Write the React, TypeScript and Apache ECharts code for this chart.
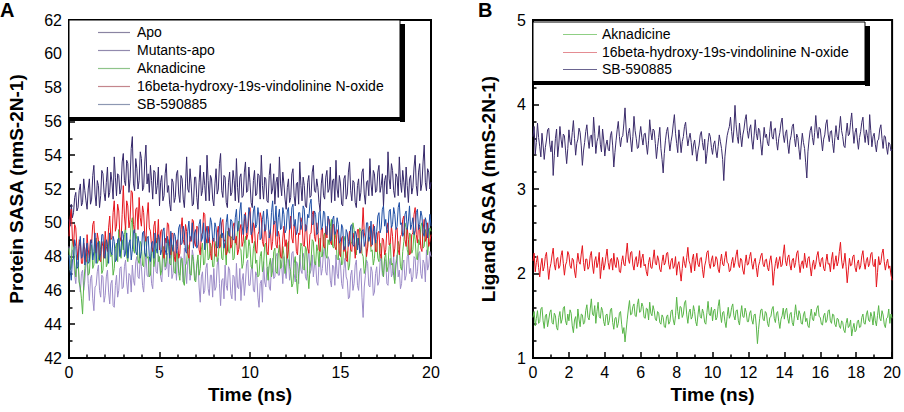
import React, { useEffect, useRef } from "react";
import * as echarts from "echarts";

// Sampling: 16 points per ns, 0..20 ns
const SAMPLES_PER_NS = 16;

// Panel A: Protein SASA
const apo = [
  50.2, 49.8, 51.1, 50.3, 50.6, 51.5, 51.8, 50.7, 50.9, 51.9, 52.3, 51.0, 51.2, 52.6, 51.9, 51.3,
  50.8, 52.0, 52.6, 51.1, 51.4, 52.8, 53.4, 51.7, 51.0, 52.5, 52.2, 50.9, 51.6, 53.1, 52.9, 51.8,
  51.3, 52.4, 53.3, 51.5, 51.8, 53.0, 52.4, 51.4, 53.9, 52.7, 51.6, 52.9, 52.8, 51.7, 52.0, 53.6,
  54.1, 52.5, 52.2, 53.7, 53.5, 51.8, 52.6, 54.4, 55.1, 52.3, 51.9, 53.8, 53.2, 52.0, 52.5, 54.2,
  53.8, 51.9, 52.1, 53.6, 54.6, 52.3, 52.9, 51.8, 53.4, 52.5, 51.4, 53.1, 53.0, 51.7, 52.2, 53.3,
  51.0, 52.4, 52.8, 51.3, 51.6, 52.9, 53.5, 51.8, 52.2, 51.1, 50.7, 52.6, 52.4, 51.2, 51.5, 52.9,
  53.1, 51.7, 51.2, 52.8, 52.6, 51.4, 50.9, 52.3, 53.9, 52.0, 51.8, 53.2, 52.3, 51.0, 51.1, 52.7,
  52.7, 51.5, 50.8, 52.4, 53.4, 51.6, 51.9, 53.0, 52.2, 51.3, 54.0, 52.5, 51.3, 52.8, 52.6, 51.4,
  51.0, 52.3, 53.2, 51.7, 52.0, 53.5, 54.1, 51.9, 51.5, 52.8, 52.7, 51.2, 50.9, 52.4, 53.0, 51.6,
  51.8, 53.1, 52.5, 51.3, 53.8, 52.1, 51.2, 52.7, 52.9, 51.5, 51.6, 53.0, 53.6, 51.8, 51.9, 53.3,
  52.4, 51.2, 50.9, 52.5, 53.1, 51.6, 51.7, 52.9, 52.8, 51.4, 54.0, 52.2, 51.4, 52.7, 52.6, 51.3,
  51.2, 52.8, 53.5, 51.7, 52.0, 52.9, 51.1, 52.4, 52.7, 51.5, 53.9, 52.3, 51.6, 53.0, 52.3, 51.4,
  50.8, 52.1, 52.6, 51.2, 51.5, 52.9, 53.2, 51.6, 51.0, 52.3, 52.4, 51.1, 53.6, 52.2, 51.3, 52.7,
  52.2, 51.0, 50.9, 52.4, 52.8, 51.5, 51.6, 53.0, 53.4, 51.9, 51.8, 52.6, 52.1, 51.2, 50.7, 52.3,
  52.9, 51.6, 51.4, 52.7, 53.1, 51.8, 52.0, 53.3, 51.2, 52.5, 52.6, 51.3, 53.7, 52.0, 51.5, 52.8,
  52.3, 51.1, 51.0, 52.6, 52.8, 51.4, 51.7, 53.0, 53.6, 51.9, 51.3, 52.5, 52.4, 51.2, 50.9, 52.2,
  52.6, 51.3, 51.8, 53.0, 53.2, 51.7, 51.1, 52.4, 52.5, 51.6, 53.8, 52.3, 51.6, 53.1, 52.9, 51.8,
  51.9, 53.0, 53.4, 51.8, 52.2, 52.9, 51.0, 52.5, 52.8, 51.7, 54.2, 52.6, 52.0, 53.5, 53.1, 51.9,
  51.5, 52.9, 52.7, 51.6, 53.9, 52.4, 51.8, 53.1, 52.4, 51.5, 53.3, 52.2, 51.2, 52.6, 52.8, 51.7,
  52.1, 53.3, 54.0, 52.2, 51.6, 53.0, 53.5, 51.9, 52.3, 53.6, 54.6, 52.4, 51.9, 53.2, 53.0, 52.0,
  52.4,
];
const mutantsApo = [
  48.6, 47.9, 47.3, 48.4, 48.1, 46.9, 46.4, 47.5, 47.7, 46.5, 45.9, 47.0, 47.2, 46.0, 46.6, 47.6,
  47.8, 46.4, 45.4, 46.7, 46.9, 45.5, 44.8, 46.2, 46.3, 47.1, 47.5, 46.0, 45.6, 46.9, 46.8, 45.3,
  45.7, 46.8, 47.2, 45.9, 45.2, 46.4, 46.6, 45.1, 45.0, 46.3, 46.9, 45.6, 46.0, 47.3, 47.4, 46.1,
  46.2, 47.4, 47.8, 46.5, 45.8, 47.0, 46.9, 45.9, 47.5, 46.6, 46.3, 47.7, 48.0, 46.8, 46.7, 47.9,
  47.4, 46.3, 45.9, 47.2, 48.2, 46.9, 46.8, 47.9, 47.6, 46.4, 46.1, 47.5, 48.4, 47.1, 47.0, 48.1,
  47.9, 46.8, 46.5, 47.6, 48.6, 47.2, 47.3, 48.2, 46.8, 47.9, 48.1, 46.7, 47.0, 48.3, 47.7, 46.6,
  48.3, 47.1, 46.9, 48.0, 47.6, 46.5, 48.5, 47.4, 46.4, 47.7, 47.9, 46.6, 47.2, 48.4, 48.0, 46.9,
  46.6, 47.5, 47.8, 46.2, 45.3, 46.8, 47.1, 45.8, 46.0, 47.3, 47.6, 46.1, 45.7, 46.9, 46.9, 45.6,
  47.3, 46.0, 46.2, 47.5, 47.9, 46.4, 45.1, 46.6, 46.7, 45.5, 47.5, 46.3, 46.0, 47.4, 47.2, 45.8,
  45.5, 46.9, 46.8, 45.4, 47.6, 46.2, 46.1, 47.3, 45.4, 46.6, 47.0, 45.7, 46.5, 47.6, 47.8, 46.3,
  46.3, 47.2, 47.5, 46.0, 45.9, 47.1, 46.9, 45.6, 45.0, 46.4, 46.6, 45.3, 47.7, 46.5, 46.2, 47.3,
  47.4, 46.2, 46.0, 47.5, 47.9, 46.7, 46.8, 48.0, 48.2, 46.9, 46.9, 47.8, 47.5, 46.4, 48.0, 47.1,
  46.7, 47.9, 47.8, 46.6, 47.1, 48.2, 48.3, 47.0, 46.5, 47.7, 47.6, 46.4, 48.1, 47.2, 47.0, 48.2,
  47.9, 46.8, 46.6, 47.8, 48.4, 47.0, 47.2, 48.1, 46.8, 47.5, 47.7, 46.5, 46.3, 47.6, 48.0, 46.9,
  47.3, 48.3, 48.5, 47.1, 46.9, 48.0, 47.8, 46.6, 46.2, 47.5, 47.4, 46.3, 48.1, 47.0, 46.7, 47.9,
  47.5, 46.4, 46.1, 47.3, 47.9, 46.8, 46.6, 45.5, 45.6, 46.9, 47.2, 46.0, 46.4, 47.5, 47.8, 46.3,
  46.0, 47.1, 47.3, 45.6, 44.4, 46.2, 46.9, 47.8, 47.6, 46.3, 46.2, 47.4, 47.1, 45.7, 45.9, 47.0,
  47.4, 46.3, 46.5, 47.7, 48.0, 46.9, 46.8, 47.9, 47.7, 46.4, 46.3, 47.5, 47.9, 46.8, 47.0, 48.1,
  46.6, 47.7, 48.1, 46.8, 47.2, 46.1, 46.4, 47.6, 47.8, 46.6, 46.9, 48.0, 48.2, 47.0, 47.3, 46.5,
  46.8, 48.0, 47.9, 46.7, 47.1, 48.2, 48.3, 47.0, 46.7, 47.8, 47.6, 46.5, 48.4, 47.2, 47.5, 48.3,
  48.0,
];
const aknadicineA = [
  48.5, 47.2, 47.6, 49.0, 48.9, 47.5, 46.8, 48.1, 47.9, 46.5, 46.2, 45.5, 44.6, 46.3, 47.3, 48.0,
  48.2, 46.9, 47.0, 48.3, 48.7, 47.3, 47.5, 48.8, 49.1, 47.6, 47.8, 48.9, 48.4, 47.0, 47.2, 48.5,
  48.9, 47.4, 47.6, 48.8, 49.4, 48.0, 48.1, 46.9, 47.3, 48.5, 48.8, 47.7, 49.6, 48.3, 47.9, 49.0,
  48.4, 49.3, 49.8, 48.0, 47.7, 48.6, 48.9, 50.0, 50.3, 48.4, 48.2, 49.4, 49.0, 47.8, 47.6, 48.9,
  48.7, 47.5, 47.4, 48.8, 49.2, 47.9, 48.0, 46.8, 46.9, 48.2, 48.5, 47.4, 47.8, 49.0, 49.1, 47.7,
  48.0, 46.9, 47.2, 48.4, 48.6, 47.4, 47.7, 48.9, 49.0, 47.6, 47.5, 48.7, 48.3, 47.1, 47.0, 48.2,
  48.2, 47.0, 46.6, 47.8, 47.9, 46.5, 46.3, 47.5, 47.6, 48.7, 48.4, 47.0, 46.9, 48.1, 47.7, 46.6,
  46.5, 47.6, 48.1, 46.9, 47.3, 48.4, 48.8, 47.5, 47.6, 48.9, 49.0, 47.8, 47.9, 48.8, 48.5, 47.4,
  47.4, 48.5, 48.9, 47.7, 48.0, 49.1, 49.3, 47.9, 47.8, 48.8, 48.6, 47.5, 49.5, 48.3, 48.2, 49.2,
  49.1, 47.8, 47.9, 49.0, 48.7, 49.6, 50.1, 48.5, 48.4, 47.3, 47.6, 48.8, 49.2, 47.9, 48.0, 49.0,
  48.6, 47.4, 47.3, 48.5, 48.9, 47.6, 47.8, 46.8, 46.9, 48.0, 48.3, 47.1, 47.5, 48.7, 48.8, 47.4,
  46.6, 47.5, 47.9, 46.8, 47.2, 48.3, 48.5, 47.1, 47.0, 48.2, 48.7, 47.3, 47.4, 48.6, 48.1, 47.0,
  47.6, 48.7, 48.9, 47.4, 47.1, 46.2, 46.4, 47.6, 48.0, 46.7, 45.8, 47.0, 47.7, 48.8, 48.6, 47.3,
  47.2, 48.6, 48.4, 47.0, 46.1, 47.3, 47.8, 49.0, 48.9, 47.6, 47.5, 48.7, 48.3, 47.4, 49.1, 48.0,
  48.0, 49.2, 49.4, 48.1, 47.9, 49.0, 48.7, 49.8, 50.2, 48.6, 48.5, 49.5, 49.0, 47.9, 47.8, 48.9,
  48.8, 47.5, 47.6, 48.9, 49.2, 47.9, 48.3, 47.2, 47.5, 48.7, 48.9, 50.0, 49.6, 48.2, 48.1, 49.1,
  48.7, 49.7, 49.5, 48.2, 48.0, 47.0, 47.3, 48.4, 48.6, 49.6, 49.8, 48.3, 48.4, 47.5, 47.9, 49.0,
  48.9, 47.9, 47.7, 48.8, 48.5, 47.2, 46.8, 47.9, 48.2, 47.1, 47.4, 48.6, 48.8, 47.5, 47.6, 46.9,
  46.4, 47.5, 47.9, 48.9, 48.6, 47.4, 47.2, 48.3, 48.9, 50.0, 49.7, 48.4, 48.1, 49.4, 49.3, 48.2,
  48.4, 49.5, 49.0, 47.9, 47.8, 49.0, 48.7, 49.8, 50.0, 48.5, 48.6, 49.6, 49.2, 48.1, 48.8, 49.7,
  49.5,
];
const vindolinineA = [
  49.2, 50.3, 50.8, 49.1, 48.6, 49.9, 49.7, 48.5, 47.8, 49.0, 48.9, 47.6, 47.6, 48.8, 48.4, 47.7,
  49.3, 48.4, 47.9, 49.0, 48.8, 49.9, 50.1, 48.6, 48.2, 49.4, 49.0, 47.8, 47.7, 48.9, 48.6, 47.9,
  49.5, 48.6, 48.3, 49.7, 50.4, 49.0, 49.1, 50.6, 51.3, 49.5, 49.8, 51.1, 50.7, 49.2, 48.9, 50.5,
  52.2, 50.4, 49.6, 51.3, 51.0, 49.7, 50.2, 51.9, 51.8, 49.9, 49.4, 50.8, 50.9, 49.6, 51.5, 50.3,
  49.8, 51.0, 50.6, 49.2, 48.9, 50.4, 51.2, 49.7, 49.5, 48.6, 48.3, 49.8, 50.1, 48.8, 49.0, 50.2,
  48.4, 49.5, 49.6, 48.3, 47.9, 49.1, 48.8, 50.0, 49.9, 48.6, 48.1, 49.4, 49.3, 48.0, 47.7, 48.9,
  49.0, 47.9, 48.2, 49.6, 50.3, 49.0, 48.7, 49.9, 49.5, 48.2, 47.9, 49.2, 48.9, 50.2, 50.1, 48.8,
  48.6, 49.8, 49.7, 48.4, 48.1, 49.3, 49.4, 50.6, 50.5, 49.1, 48.8, 49.8, 49.2, 48.2, 47.8, 49.0,
  49.1, 48.2, 48.0, 49.4, 49.8, 48.5, 48.6, 50.0, 50.2, 48.9, 49.0, 48.1, 48.3, 49.7, 49.6, 48.5,
  48.7, 49.8, 50.0, 48.8, 49.2, 48.1, 48.4, 49.6, 49.9, 48.6, 48.9, 50.1, 50.6, 49.0, 49.3, 50.4,
  50.9, 49.5, 48.8, 50.0, 49.7, 48.4, 48.2, 49.3, 49.5, 50.6, 50.3, 48.9, 48.6, 49.9, 49.4, 48.3,
  48.1, 49.3, 49.6, 48.4, 48.9, 50.0, 50.1, 48.7, 48.5, 49.5, 49.2, 48.0, 47.9, 49.1, 49.8, 48.6,
  49.0, 47.9, 48.4, 49.7, 50.4, 49.1, 48.8, 49.9, 49.6, 48.3, 48.1, 49.4, 49.3, 50.3, 50.0, 48.7,
  48.6, 49.9, 49.8, 48.5, 48.2, 49.3, 49.4, 50.5, 50.7, 49.2, 48.9, 50.0, 49.5, 48.4, 48.3, 49.6,
  49.7, 48.6, 48.5, 49.8, 49.1, 50.3, 50.2, 48.9, 48.7, 49.9, 49.9, 48.6, 48.4, 49.6, 49.3, 48.2,
  48.0, 49.1, 49.2, 48.3, 48.6, 47.8, 47.7, 48.9, 49.5, 48.4, 48.3, 49.4, 49.0, 47.9, 48.8, 49.6,
  49.6, 48.4, 48.2, 49.5, 50.9, 49.4, 49.1, 48.0, 48.5, 49.7, 49.8, 48.6, 48.7, 49.9, 49.4, 48.3,
  48.3, 49.4, 49.5, 48.2, 47.9, 49.1, 49.0, 48.1, 48.4, 49.6, 50.0, 48.7, 48.8, 49.8, 49.2, 48.0,
  48.5, 49.6, 49.7, 48.4, 48.1, 49.2, 49.3, 50.2, 50.4, 49.0, 48.6, 49.7, 49.0, 48.1, 48.2, 49.3,
  49.4, 50.5, 50.9, 49.3, 48.8, 49.9, 49.6, 48.5, 48.3, 49.6, 50.2, 48.9, 49.1, 50.0, 48.6, 48.9,
  49.3,
];
const sbA = [
  48.1, 47.2, 46.6, 47.8, 47.9, 49.0, 48.6, 47.3, 47.4, 48.6, 49.2, 47.9, 48.0, 49.1, 47.5, 48.4,
  48.8, 47.6, 47.7, 48.9, 49.0, 47.8, 48.3, 49.4, 47.6, 48.7, 48.9, 47.8, 48.2, 49.3, 49.3, 48.0,
  47.9, 49.0, 48.7, 47.6, 49.4, 48.3, 48.1, 49.2, 48.9, 47.7, 47.8, 49.0, 49.1, 48.0, 48.5, 49.5,
  49.3, 48.0, 48.2, 49.4, 47.9, 48.8, 49.0, 47.8, 48.4, 49.5, 49.6, 48.3, 48.1, 49.2, 48.8, 47.9,
  48.3, 49.4, 49.5, 48.2, 48.0, 49.1, 49.2, 48.0, 47.7, 48.8, 48.9, 47.9, 49.4, 48.5, 48.2, 49.3,
  49.0, 48.1, 48.4, 49.5, 49.7, 48.4, 48.1, 49.2, 48.8, 47.9, 49.5, 48.6, 48.3, 49.4, 49.2, 48.2,
  48.6, 49.7, 49.9, 48.7, 48.8, 49.8, 49.4, 48.3, 48.2, 49.5, 50.1, 48.9, 49.0, 50.0, 48.5, 49.4,
  49.6, 48.5, 48.7, 49.9, 50.2, 48.9, 49.1, 50.0, 48.4, 49.4, 49.8, 48.8, 49.3, 50.3, 50.0, 49.0,
  48.9, 50.0, 49.7, 48.5, 48.6, 49.8, 50.3, 49.1, 49.4, 48.5, 48.8, 50.0, 50.5, 49.3, 49.2, 50.2,
  50.1, 49.0, 49.0, 50.3, 50.8, 49.5, 49.6, 50.7, 51.2, 49.8, 49.3, 50.5, 50.4, 49.4, 49.8, 50.9,
  50.6, 49.3, 49.5, 50.7, 51.0, 49.7, 49.9, 50.9, 50.3, 49.0, 49.1, 50.2, 50.7, 49.5, 49.6, 50.8,
  50.2, 49.1, 49.4, 50.6, 51.3, 49.9, 50.0, 51.0, 49.2, 50.3, 50.8, 49.6, 49.7, 50.9, 50.5, 49.4,
  49.6, 50.7, 50.9, 49.6, 49.8, 50.9, 51.1, 49.8, 50.2, 49.3, 49.5, 50.6, 50.6, 49.6, 49.9, 51.0,
  50.8, 49.5, 49.6, 50.5, 50.3, 51.1, 51.4, 49.9, 49.9, 50.7, 50.5, 49.3, 49.4, 50.6, 50.7, 49.6,
  49.8, 50.7, 50.6, 49.4, 49.3, 50.4, 50.1, 48.9, 49.0, 50.2, 50.4, 49.3, 49.5, 50.3, 49.9, 48.8,
  48.9, 49.9, 49.7, 48.4, 48.5, 49.6, 49.4, 48.6, 48.8, 49.8, 49.9, 48.7, 48.6, 49.5, 49.3, 48.4,
  49.1, 48.2, 48.4, 49.5, 49.6, 48.6, 48.9, 50.0, 50.0, 48.9, 49.2, 50.1, 48.7, 49.5, 49.8, 48.8,
  49.5, 50.4, 50.6, 49.4, 49.7, 50.8, 51.0, 49.8, 50.2, 49.4, 49.6, 50.7, 50.8, 49.7, 49.9, 50.9,
  50.5, 49.6, 49.8, 50.9, 51.2, 49.9, 50.0, 49.2, 49.4, 50.5, 50.7, 49.6, 50.1, 51.0, 49.6, 49.9,
  50.3, 49.3, 49.5, 50.6, 50.8, 49.6, 49.9, 50.7, 50.4, 49.4, 49.2, 50.3, 50.0, 49.1, 49.7, 50.5,
  49.8,
];

// Panel B: Ligand SASA
const aknadicineB = [
  1.48, 1.55, 1.38, 1.47, 1.56, 1.41, 1.43, 1.58, 1.60, 1.44, 1.35, 1.50, 1.52, 1.37, 1.45, 1.54,
  1.57, 1.42, 1.40, 1.53, 1.50, 1.36, 1.33, 1.48, 1.55, 1.41, 1.46, 1.59, 1.61, 1.44, 1.39, 1.52,
  1.44, 1.57, 1.53, 1.38, 1.30, 1.45, 1.49, 1.35, 1.58, 1.46, 1.37, 1.52, 1.51, 1.40, 1.42, 1.56,
  1.63, 1.48, 1.45, 1.58, 1.70, 1.52, 1.50, 1.62, 1.41, 1.55, 1.66, 1.49, 1.47, 1.60, 1.56, 1.43,
  1.38, 1.51, 1.52, 1.39, 1.44, 1.57, 1.59, 1.42, 1.34, 1.47, 1.48, 1.36, 1.41, 1.53, 1.55, 1.40,
  1.29, 1.36, 1.19, 1.33, 1.46, 1.58, 1.68, 1.51, 1.52, 1.61, 1.64, 1.50, 1.49, 1.63, 1.70, 1.54,
  1.55, 1.65, 1.61, 1.48, 1.47, 1.59, 1.58, 1.45, 1.66, 1.53, 1.50, 1.62, 1.56, 1.46, 1.44, 1.55,
  1.53, 1.42, 1.40, 1.51, 1.48, 1.37, 1.36, 1.49, 1.51, 1.40, 1.43, 1.55, 1.57, 1.45, 1.39, 1.50,
  1.72, 1.55, 1.46, 1.61, 1.60, 1.48, 1.52, 1.65, 1.68, 1.51, 1.41, 1.54, 1.58, 1.46, 1.49, 1.62,
  1.55, 1.43, 1.38, 1.51, 1.62, 1.49, 1.47, 1.58, 1.53, 1.42, 1.40, 1.54, 1.67, 1.52, 1.50, 1.60,
  1.44, 1.56, 1.58, 1.45, 1.48, 1.61, 1.69, 1.52, 1.42, 1.54, 1.55, 1.43, 1.36, 1.49, 1.60, 1.47,
  1.51, 1.60, 1.64, 1.50, 1.45, 1.56, 1.57, 1.44, 1.39, 1.52, 1.62, 1.49, 1.48, 1.59, 1.54, 1.43,
  1.43, 1.53, 1.56, 1.45, 1.40, 1.51, 1.52, 1.38, 1.17, 1.34, 1.47, 1.57, 1.58, 1.46, 1.44, 1.55,
  1.53, 1.41, 1.37, 1.48, 1.49, 1.58, 1.61, 1.47, 1.42, 1.53, 1.55, 1.43, 1.35, 1.46, 1.50, 1.59,
  1.46, 1.56, 1.59, 1.47, 1.41, 1.52, 1.54, 1.42, 1.38, 1.50, 1.63, 1.51, 1.45, 1.56, 1.52, 1.41,
  1.40, 1.51, 1.55, 1.43, 1.47, 1.38, 1.36, 1.49, 1.58, 1.46, 1.44, 1.54, 1.50, 1.59, 1.62, 1.49,
  1.48, 1.40, 1.39, 1.50, 1.53, 1.42, 1.45, 1.56, 1.57, 1.44, 1.41, 1.52, 1.51, 1.40, 1.37, 1.47,
  1.46, 1.38, 1.35, 1.44, 1.42, 1.33, 1.30, 1.41, 1.47, 1.36, 1.38, 1.45, 1.26, 1.35, 1.41, 1.31,
  1.33, 1.43, 1.45, 1.36, 1.37, 1.48, 1.52, 1.41, 1.40, 1.51, 1.56, 1.45, 1.43, 1.54, 1.49, 1.39,
  1.55, 1.44, 1.38, 1.50, 1.62, 1.47, 1.44, 1.56, 1.51, 1.40, 1.36, 1.47, 1.48, 1.58, 1.41, 1.52,
  1.47,
];
const vindolinineB = [
  2.15, 2.24, 2.02, 2.13, 2.21, 2.07, 1.96, 2.10, 2.18, 2.03, 2.08, 2.20, 2.25, 2.09, 1.93, 2.06,
  2.12, 2.22, 2.30, 2.11, 2.04, 2.17, 2.19, 2.06, 2.09, 2.21, 2.27, 2.12, 1.98, 2.10, 2.14, 2.26,
  2.22, 2.09, 2.06, 2.18, 2.16, 2.03, 1.95, 2.12, 2.24, 2.14, 2.11, 2.23, 2.33, 2.13, 2.03, 2.17,
  2.17, 2.05, 2.08, 2.21, 2.26, 2.10, 2.00, 2.15, 2.20, 2.07, 2.13, 2.25, 1.94, 2.08, 2.19, 2.04,
  2.10, 2.20, 2.29, 2.13, 2.05, 2.16, 2.18, 2.04, 2.24, 2.11, 2.07, 2.19, 2.15, 2.02, 2.01, 2.14,
  2.21, 2.11, 2.09, 2.23, 2.36, 2.17, 2.12, 2.25, 2.26, 2.10, 2.04, 2.16, 2.20, 2.08, 2.14, 2.27,
  2.07, 2.18, 2.23, 2.09, 2.11, 2.02, 1.97, 2.13, 2.19, 2.07, 2.06, 2.17, 2.28, 2.12, 2.10, 2.21,
  2.16, 2.05, 2.02, 2.14, 2.22, 2.10, 2.13, 2.24, 2.25, 2.11, 2.05, 2.15, 2.18, 2.06, 2.09, 2.20,
  1.98, 2.10, 2.14, 2.03, 1.91, 2.06, 2.20, 2.12, 2.07, 2.19, 2.31, 2.15, 2.11, 2.01, 2.17, 2.23,
  2.03, 2.15, 2.24, 2.11, 2.08, 2.18, 2.19, 2.05, 1.95, 2.09, 2.15, 2.25, 2.27, 2.12, 2.06, 2.16,
  2.21, 2.08, 2.10, 2.20, 2.17, 2.05, 2.01, 2.14, 2.23, 2.11, 2.09, 2.19, 2.26, 2.13, 2.12, 2.02,
  2.04, 2.14, 2.19, 2.07, 2.13, 2.22, 2.28, 2.11, 2.07, 2.18, 2.16, 2.04, 1.99, 2.12, 2.22, 2.10,
  2.11, 2.20, 2.25, 2.12, 2.05, 2.14, 2.18, 2.07, 1.96, 2.09, 2.14, 2.21, 2.24, 2.11, 2.08, 2.16,
  2.17, 2.07, 2.03, 2.15, 2.21, 2.09, 1.86, 2.02, 2.12, 2.19, 2.06, 2.14, 2.20, 2.08, 2.10, 2.23,
  2.34, 2.15, 2.09, 2.19, 2.22, 2.10, 2.04, 2.16, 2.18, 2.07, 2.13, 2.24, 2.27, 2.12, 2.01, 2.11,
  2.15, 2.06, 2.24, 2.13, 2.07, 2.18, 2.20, 2.08, 1.97, 2.10, 2.16, 2.05, 2.11, 2.21, 2.26, 2.14,
  2.08, 2.17, 2.19, 2.06, 2.03, 2.14, 2.23, 2.11, 2.12, 2.02, 2.17, 2.25, 2.05, 2.13, 2.21, 2.09,
  2.14, 2.26, 2.37, 2.16, 2.06, 2.13, 2.24, 2.08, 1.89, 2.04, 2.18, 2.09, 2.10, 2.20, 2.22, 2.07,
  2.02, 2.12, 2.16, 2.05, 2.09, 2.21, 2.27, 2.13, 2.05, 2.15, 2.19, 2.08, 2.12, 2.23, 2.25, 2.10,
  2.08, 2.17, 1.84, 2.01, 2.20, 2.10, 2.13, 2.24, 2.29, 2.14, 2.04, 2.12, 2.17, 2.06, 2.09, 1.98,
  1.92,
];
const sbB = [
  3.62, 3.74, 3.41, 3.55, 3.78, 3.61, 3.50, 3.38, 3.66, 3.52, 3.35, 3.49, 3.58, 3.70, 3.72, 3.53,
  3.44, 3.57, 3.16, 3.40, 3.60, 3.71, 3.38, 3.52, 3.74, 3.59, 3.49, 3.65, 3.63, 3.46, 3.30, 3.48,
  3.70, 3.56, 3.52, 3.67, 3.81, 3.60, 3.40, 3.54, 3.59, 3.72, 3.67, 3.51, 3.28, 3.45, 3.55, 3.68,
  3.76, 3.59, 3.48, 3.62, 3.64, 3.50, 3.85, 3.66, 3.42, 3.56, 3.61, 3.75, 3.53, 3.44, 3.71, 3.58,
  3.39, 3.52, 3.58, 3.47, 3.45, 3.63, 3.68, 3.51, 3.26, 3.43, 3.57, 3.70, 3.80, 3.62, 3.50, 3.61,
  3.63, 3.78, 3.96, 3.70, 3.55, 3.66, 3.72, 3.58, 3.44, 3.62, 3.86, 3.69, 3.60, 3.48, 3.49, 3.64,
  3.74, 3.61, 3.52, 3.65, 3.66, 3.53, 3.41, 3.57, 3.82, 3.67, 3.58, 3.71, 3.69, 3.54, 3.36, 3.50,
  3.61, 3.73, 3.48, 3.35, 3.19, 3.42, 3.57, 3.68, 3.73, 3.59, 3.45, 3.56, 3.64, 3.77, 3.88, 3.66,
  3.54, 3.43, 3.70, 3.58, 3.43, 3.56, 3.62, 3.74, 3.79, 3.63, 3.51, 3.60, 3.66, 3.55, 3.40, 3.52,
  3.58, 3.47, 3.33, 3.45, 3.52, 3.64, 3.68, 3.55, 3.46, 3.59, 3.30, 3.42, 3.55, 3.66, 3.62, 3.49,
  3.41, 3.53, 3.57, 3.45, 3.37, 3.50, 3.64, 3.56, 3.48, 3.35, 3.10, 3.38, 3.52, 3.63, 3.69, 3.74,
  3.85, 3.68, 3.55, 3.70, 3.99, 3.76, 3.62, 3.54, 3.78, 3.63, 3.50, 3.64, 3.71, 3.82, 3.88, 3.69,
  3.60, 3.71, 3.76, 3.58, 3.47, 3.63, 3.82, 3.66, 3.58, 3.72, 3.69, 3.53, 3.40, 3.57, 3.73, 3.61,
  3.65, 3.54, 3.51, 3.68, 3.80, 3.62, 3.59, 3.71, 3.72, 3.56, 3.46, 3.60, 3.67, 3.78, 3.84, 3.64,
  3.55, 3.66, 3.70, 3.53, 3.42, 3.57, 3.63, 3.74, 3.77, 3.60, 3.50, 3.65, 3.61, 3.47, 3.35, 3.52,
  3.66, 3.55, 3.48, 3.31, 3.13, 3.44, 3.58, 3.69, 3.74, 3.61, 3.52, 3.67, 3.87, 3.70, 3.60, 3.73,
  3.71, 3.58, 3.45, 3.59, 3.64, 3.77, 3.82, 3.65, 3.56, 3.68, 3.69, 3.54, 3.43, 3.61, 3.75, 3.62,
  3.58, 3.72, 3.86, 3.69, 3.62, 3.51, 3.49, 3.66, 3.78, 3.63, 3.65, 3.79, 3.90, 3.70, 3.54, 3.67,
  3.72, 3.58, 3.47, 3.61, 3.68, 3.79, 3.85, 3.66, 3.55, 3.70, 3.63, 3.52, 3.88, 3.69, 3.50, 3.62,
  3.66, 3.53, 3.44, 3.57, 3.59, 3.71, 3.76, 3.60, 3.48, 3.63, 3.62, 3.50, 3.41, 3.55, 3.53, 3.45,
  3.47,
];

const seriesA = [
  { name: "Apo", values: apo, color: "#35286a", legendColor: "#8a84a2" },
  { name: "Mutants-apo", values: mutantsApo, color: "#9c8bc8", legendColor: "#928aae" },
  { name: "Aknadicine", values: aknadicineA, color: "#58b548", legendColor: "#8fc48a" },
  { name: "16beta-hydroxy-19s-vindolinine N-oxide", values: vindolinineA, color: "#e5151d", legendColor: "#c4868c" },
  { name: "SB-590885", values: sbA, color: "#1f4fa5", legendColor: "#8d98b2" },
];
const seriesB = [
  { name: "Aknadicine", values: aknadicineB, color: "#58b548", legendColor: "#8fcf84" },
  { name: "16beta-hydroxy-19s-vindolinine N-oxide", values: vindolinineB, color: "#e5151d", legendColor: "#e48c92" },
  { name: "SB-590885", values: sbB, color: "#3b2c6b", legendColor: "#6a6490" },
];

const FONT = "'Liberation Sans', Arial, Helvetica, sans-serif";

function toPairs(values: number[]) {
  return values.map((v, i) => [i / SAMPLES_PER_NS, v]);
}

function legendGraphics(
  prefix: string,
  items: { name: string; legendColor: string }[],
  box: { x: number; y: number; w: number; h: number },
  lineX0: number,
  lineX1: number,
  textX: number,
  rows: number[]
) {
  const els: any[] = [
    {
      id: prefix + "-box",
      type: "rect",
      z: 100,
      shape: { x: box.x, y: box.y, width: box.w, height: box.h },
      style: { fill: "#fff", stroke: "#000", lineWidth: 1 },
    },
    {
      id: prefix + "-shr",
      type: "rect",
      z: 101,
      shape: { x: box.x + box.w, y: box.y + 4, width: 5, height: box.h },
      style: { fill: "#000" },
    },
    {
      id: prefix + "-shb",
      type: "rect",
      z: 101,
      shape: { x: box.x, y: box.y + box.h - 1, width: box.w + 5, height: 4 },
      style: { fill: "#000" },
    },
  ];
  items.forEach((it, i) => {
    const y = rows[i] + 0.5;
    els.push({
      id: `${prefix}-line-${i}`,
      type: "line",
      z: 102,
      shape: { x1: lineX0, y1: y, x2: lineX1, y2: y },
      style: { stroke: it.legendColor, lineWidth: 1.2 },
    });
    els.push({
      id: `${prefix}-text-${i}`,
      type: "text",
      z: 102,
      x: textX,
      y: rows[i],
      style: {
        text: it.name,
        font: `14px ${FONT}`,
        fill: "#000",
        verticalAlign: "middle",
        align: "left",
      },
    });
  });
  return els;
}

export default function App() {
  const ref = useRef<HTMLDivElement>(null);

  useEffect(() => {
    if (!ref.current) return;
    const chart = echarts.init(ref.current, undefined, { renderer: "svg" });

    const axisLine = { show: true, lineStyle: { color: "#000", width: 2 } };
    const axisTick = { show: true, inside: true, length: 6, lineStyle: { color: "#000", width: 1.5 } };
    const axisLabel = { color: "#000", fontSize: 16, fontFamily: FONT, margin: 7 };
    const nameStyle = { color: "#000", fontSize: 19, fontWeight: "bold", fontFamily: FONT };

    const xAxisCommon = (gridIndex: number, interval: number, minorSplit: number) => ({
      type: "value",
      gridIndex,
      min: 0,
      max: 20,
      interval,
      name: "Time (ns)",
      nameLocation: "middle",
      nameGap: 22,
      nameTextStyle: nameStyle,
      axisLine,
      axisTick,
      minorTick: { show: true, splitNumber: minorSplit, length: 3.5, lineStyle: { color: "#000", width: 1.5 } },
      axisLabel: { ...axisLabel, margin: 6 },
      splitLine: { show: false },
    });

    const lineSeries = (s: any, idx: number) => ({
      type: "line",
      name: s.name,
      xAxisIndex: idx,
      yAxisIndex: idx,
      data: toPairs(s.values),
      showSymbol: false,
      symbol: "none",
      lineStyle: { color: s.color, width: 1 },
      itemStyle: { color: s.color },
    });

    const option: any = {
      animation: false,
      backgroundColor: "#fff",
      grid: [
        { left: 69, top: 20, width: 362, height: 338, show: true, borderColor: "#000", borderWidth: 2 },
        { left: 533, top: 20, width: 362, height: 338, show: true, borderColor: "#000", borderWidth: 2 },
      ],
      xAxis: [xAxisCommon(0, 5, 5), xAxisCommon(1, 2, 2)],
      yAxis: [
        {
          type: "value",
          gridIndex: 0,
          min: 42,
          max: 62,
          interval: 2,
          name: "Protein SASA (nmS-2N-1)",
          nameLocation: "middle",
          nameGap: 43,
          nameTextStyle: nameStyle,
          axisLine,
          axisTick,
          minorTick: { show: true, splitNumber: 2, length: 3.5, lineStyle: { color: "#000", width: 1.5 } },
          axisLabel,
          splitLine: { show: false },
        },
        {
          type: "value",
          gridIndex: 1,
          min: 1,
          max: 5,
          interval: 1,
          name: "Ligand SASA (nmS-2N-1)",
          nameLocation: "middle",
          nameGap: 35,
          nameTextStyle: nameStyle,
          axisLine,
          axisTick,
          minorTick: { show: true, splitNumber: 5, length: 3.5, lineStyle: { color: "#000", width: 1.5 } },
          axisLabel,
          splitLine: { show: false },
        },
      ],
      series: [...seriesA.map((s) => lineSeries(s, 0)), ...seriesB.map((s) => lineSeries(s, 1))],
      graphic: [
        ...legendGraphics("la", seriesA, { x: 69, y: 20, w: 331, h: 98 }, 98, 130, 137, [32, 50, 68, 86, 104]),
        ...legendGraphics("lb", seriesB, { x: 533, y: 22, w: 332, h: 60 }, 563, 597, 602, [34, 52, 69]),
        {
          id: "panelA",
          type: "text",
          x: 0,
          y: 0,
          style: { text: "A", font: `bold 20px ${FONT}`, fill: "#000", verticalAlign: "top" },
        },
        {
          id: "panelB",
          type: "text",
          x: 478,
          y: 0,
          style: { text: "B", font: `bold 20px ${FONT}`, fill: "#000", verticalAlign: "top" },
        },
      ],
    };

    chart.setOption(option);
    return () => chart.dispose();
  }, []);

  return (
    <div
      ref={ref}
      style={{ position: "fixed", left: 0, top: 0, width: 904, height: 412, background: "#fff" }}
    />
  );
}
